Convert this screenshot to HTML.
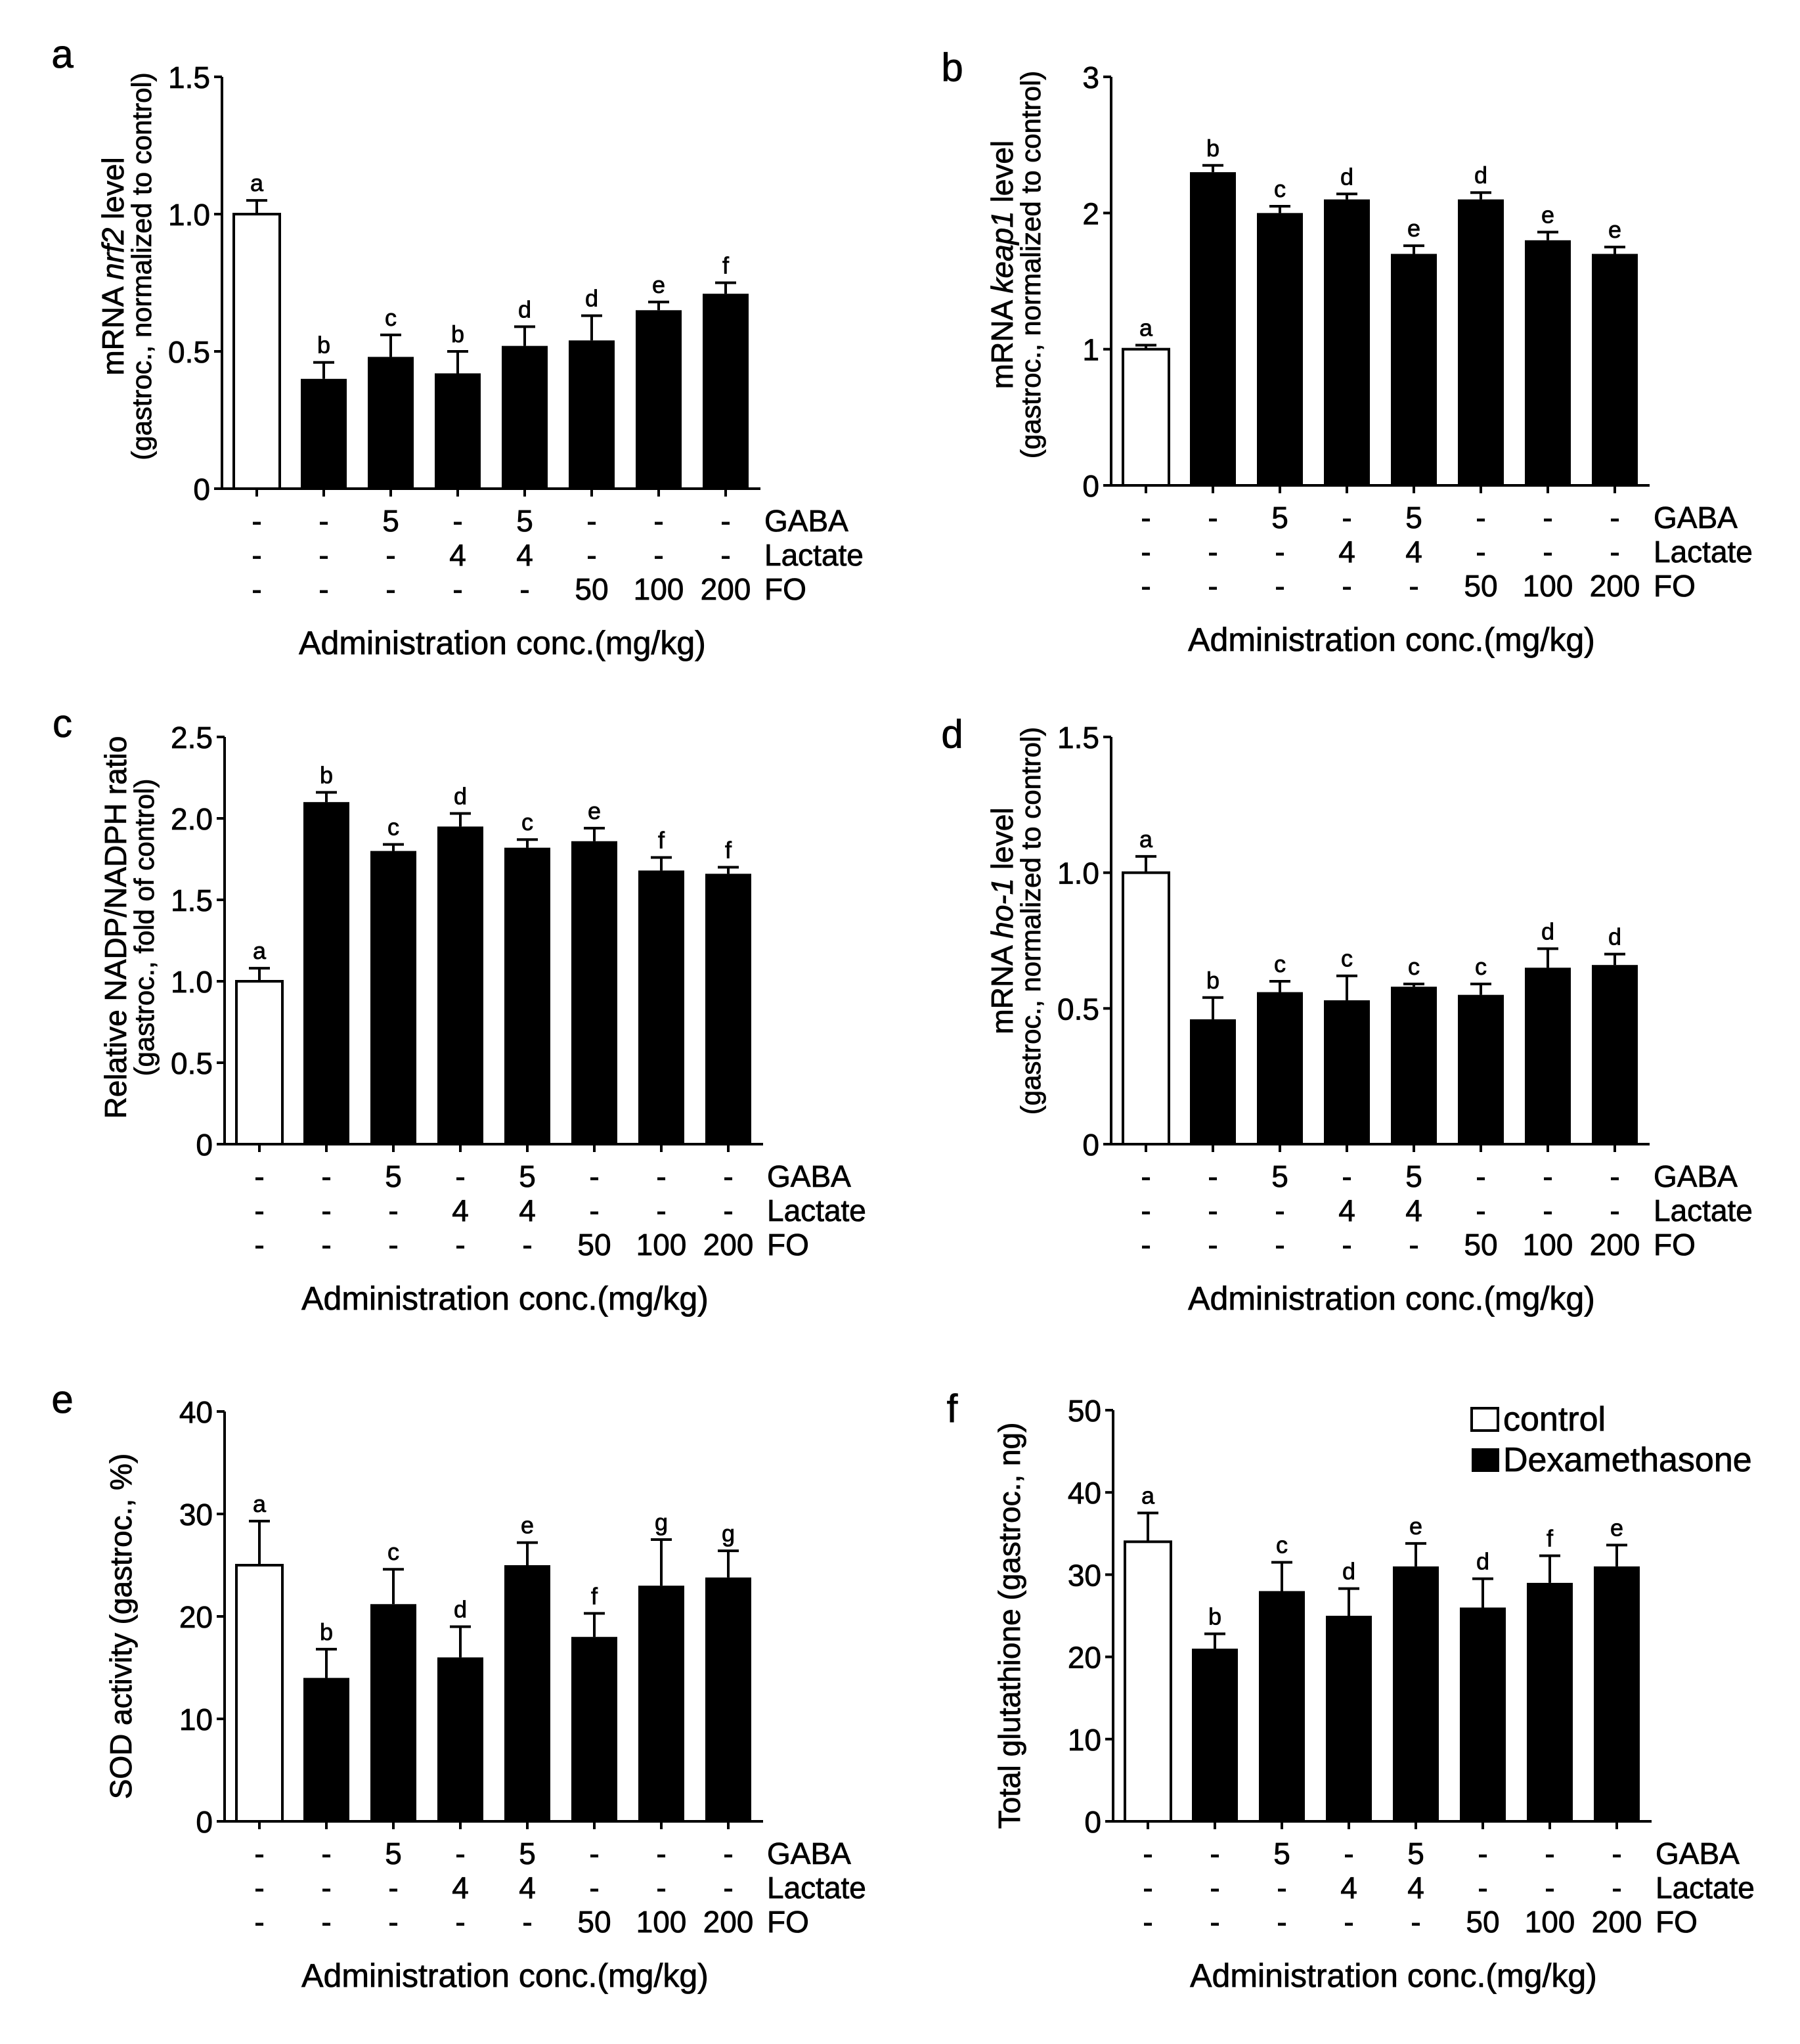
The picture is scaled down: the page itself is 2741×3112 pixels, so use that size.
<!DOCTYPE html>
<html><head><meta charset="utf-8">
<style>
html,body{margin:0;padding:0;background:#fff;}
svg{display:block;font-family:"Liberation Sans",Arial,sans-serif;}
svg text{stroke:#000;stroke-width:0.8px;}
</style></head>
<body>
<svg id="fig" width="2741" height="3112" viewBox="0 0 2741 3112" xmlns="http://www.w3.org/2000/svg">
<rect x="0" y="0" width="2741" height="3112" fill="#fff"/>
<g>
  <rect x="2241" y="2144" width="40" height="34" fill="#fff" stroke="#000" stroke-width="4"/>
  <text x="2289" y="2178" font-size="52">control</text>
  <rect x="2241" y="2205" width="42" height="36" fill="#000"/>
  <text x="2289" y="2240" font-size="52">Dexamethasone</text>
</g>
</svg>
<script>
const panelIds = ["a","b","c","d","e","f"];
const valsA = [1.0,0.40,0.48,0.42,0.52,0.54,0.65,0.71];
const errA  = [0.05,0.06,0.08,0.08,0.07,0.09,0.03,0.04];
const letA  = ["a","b","c","b","d","d","e","f"];
const ticksA = [0,0.5,1.0,1.5];
const tickLabA = ["0","0.5","1.0","1.5"];
const valsB = [1.0,2.3,2.0,2.1,1.7,2.1,1.8,1.7];
const errB  = [0.03,0.05,0.05,0.04,0.06,0.05,0.06,0.05];
const letB  = ["a","b","c","d","e","d","e","e"];
const ticksB = [0,1,2,3];
const tickLabB = ["0","1","2","3"];
const valsC = [1.0,2.1,1.8,1.95,1.82,1.86,1.68,1.66];
const errC  = [0.08,0.06,0.04,0.08,0.05,0.08,0.08,0.04];
const letC  = ["a","b","c","d","c","e","f","f"];
const ticksC = [0,0.5,1.0,1.5,2.0,2.5];
const tickLabC = ["0","0.5","1.0","1.5","2.0","2.5"];
const valsD = [1.0,0.46,0.56,0.53,0.58,0.55,0.65,0.66];
const errD  = [0.06,0.08,0.04,0.09,0.01,0.04,0.07,0.04];
const letD  = ["a","b","c","c","c","c","d","d"];
const ticksD = [0,0.5,1.0,1.5];
const tickLabD = ["0","0.5","1.0","1.5"];
const valsE = [25,14,21.2,16,25,18,23,23.8];
const errE  = [4.3,2.8,3.4,3.0,2.2,2.3,4.5,2.6];
const letE  = ["a","b","c","d","e","f","g","g"];
const ticksE = [0,10,20,30,40];
const tickLabE = ["0","10","20","30","40"];
const valsF = [34,21,28,25,31,26,29,31];
const errF  = [3.5,1.8,3.5,3.3,2.8,3.5,3.3,2.6];
const letF  = ["a","b","c","d","e","d","f","e"];
const ticksF = [0,10,20,30,40,50];
const tickLabF = ["0","10","20","30","40","50"];
const gabaRow = ["-","-","5","-","5","-","-","-"];
const lactRow = ["-","-","-","4","4","-","-","-"];
const foRow   = ["-","-","-","-","-","50","100","200"];
const rowNames = ["GABA","Lactate","FO"];

const NS="http://www.w3.org/2000/svg";
const svg=document.getElementById("fig");
function mk(tag,attrs,parent,txt){const e=document.createElementNS(NS,tag);for(const k in attrs)e.setAttribute(k,attrs[k]);if(txt!==undefined)e.innerHTML=txt;(parent||svg).appendChild(e);return e;}

const panels=[
 {id:"a",ax:338,top:117,zero:744,vals:valsA,err:errA,let:letA,ticks:ticksA,tl:tickLabA,lx:95,ly:103,t1:'mRNA <tspan font-style="italic">nrf2</tspan> level',t2:'(gastroc., normalized to control)',tc:-25},
 {id:"b",ax:1692,top:117,zero:739,vals:valsB,err:errB,let:letB,ticks:ticksB,tl:tickLabB,lx:1450,ly:123,t1:'mRNA <tspan font-style="italic">keap1</tspan> level',t2:'(gastroc., normalized to control)',tc:-25},
 {id:"c",ax:342,top:1122,zero:1742,vals:valsC,err:errC,let:letC,ticks:ticksC,tl:tickLabC,lx:95,ly:1122,t1:'Relative NADP/NADPH ratio',t2:'(gastroc., fold of control)',tc:-20},
 {id:"d",ax:1692,top:1122,zero:1742,vals:valsD,err:errD,let:letD,ticks:ticksD,tl:tickLabD,lx:1450,ly:1138,t1:'mRNA <tspan font-style="italic">ho-1</tspan> level',t2:'(gastroc., normalized to control)',tc:-30},
 {id:"e",ax:342,top:2149,zero:2773,vals:valsE,err:errE,let:letE,ticks:ticksE,tl:tickLabE,lx:95,ly:2151,t1:'SOD activity (gastroc., %)',t2:null,tc:15},
 {id:"f",ax:1695,top:2147,zero:2773,vals:valsF,err:errF,let:letF,ticks:ticksF,tl:tickLabF,lx:1450,ly:2165,t1:'Total glutathione (gastroc., ng)',t2:null,tc:15}
];

panels.forEach(p=>{
  const g=mk("g",{});
  
  
  const max=p.ticks[p.ticks.length-1];
  const y=v=>p.zero-(v/max)*(p.zero-p.top);
  const xc=i=>p.ax+53+i*102;
  const lab=mk("text",{x:p.lx,y:p.ly,"font-size":60,"text-anchor":"middle"},g,p.id);
  
  
  p.vals.forEach((v,i)=>{
    const b=mk("rect",{x:xc(i)-35,y:y(v),width:70,height:p.zero-y(v),fill:i===0?"#fff":"#000",stroke:"#000","stroke-width":i===0?4:0},g);
    
    
    const et=y(v+p.err[i]);
    const e=mk("path",{d:`M${xc(i)} ${y(v)}V${et}M${xc(i)-16} ${et}H${xc(i)+16}`,stroke:"#000","stroke-width":4,fill:"none"},g);
    
    
    const l=mk("text",{x:xc(i),y:et-14,"font-size":36,"text-anchor":"middle"},g,p.let[i]);
    
    
    const t=mk("line",{x1:xc(i),x2:xc(i),y1:p.zero,y2:p.zero+12,stroke:"#000","stroke-width":4},g);
    
    
  });
  const ya=mk("line",{x1:p.ax,x2:p.ax,y1:p.top,y2:p.zero,stroke:"#000","stroke-width":4},g);
  
  
  const xa=mk("line",{x1:p.ax-12,x2:p.ax+820,y1:p.zero,y2:p.zero,stroke:"#000","stroke-width":4},g);
  
  
  p.ticks.forEach((t,k)=>{
    const tk=mk("line",{x1:p.ax-12,x2:p.ax,y1:y(t),y2:y(t),stroke:"#000","stroke-width":4},g);
    
    
    const tl=mk("text",{x:p.ax-18,y:y(t)+17,"font-size":46,"text-anchor":"end"},g,p.tl[k]);
    
    
  });
  const mid=(p.top+p.zero)/2+p.tc;
  if(p.t2){
    const t1=mk("text",{x:0,y:0,"font-size":46,"text-anchor":"middle",transform:`translate(${p.ax-150},${mid}) rotate(-90)`},g,p.t1);
    
    
    const t2=mk("text",{x:0,y:0,"font-size":42,"text-anchor":"middle",transform:`translate(${p.ax-108},${mid}) rotate(-90)`},g,p.t2);
    
    
  } else {
    const t1=mk("text",{x:0,y:0,"font-size":46,"text-anchor":"middle",transform:`translate(${p.ax-142},${mid}) rotate(-90)`},g,p.t1);
    
    
  }
  [gabaRow,lactRow,foRow].forEach((row,r)=>{
    const ry=p.zero+65+r*52;
    row.forEach((s,i)=>{
      const c=mk("text",{x:xc(i),y:ry,"font-size":46,"text-anchor":"middle"},g,s);
      
      
    });
    const n=mk("text",{x:p.ax+826,y:ry,"font-size":46},g,rowNames[r]);
    
    
  });
  const xt=mk("text",{x:p.ax+427,y:p.zero+252,"font-size":50,"text-anchor":"middle"},g,"Administration conc.(mg/kg)");
  
  
});
</script>
</body></html>
